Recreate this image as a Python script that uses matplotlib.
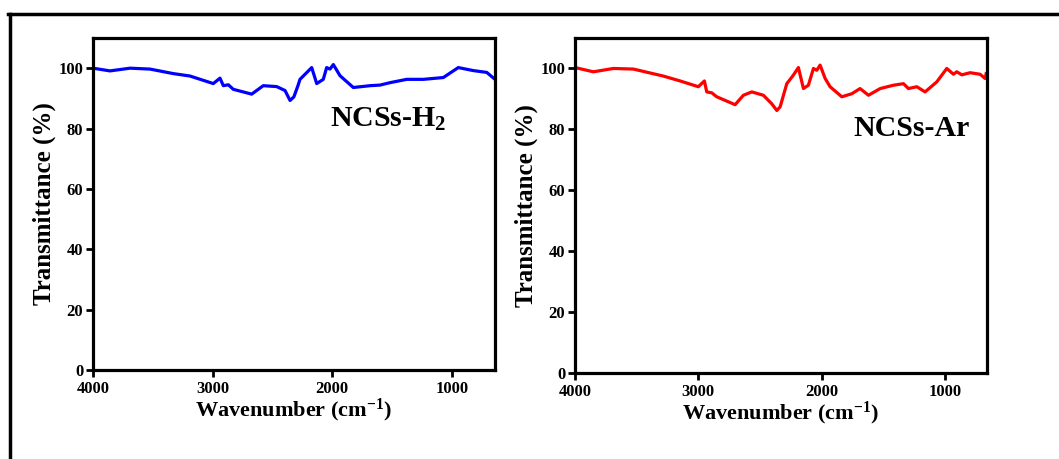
import matplotlib
matplotlib.use("Agg")
import matplotlib.pyplot as plt
from matplotlib.lines import Line2D

# NCSs-H2 spectrum (wavenumber, transmittance)
wn_h2 = [4000, 3858, 3690, 3523, 3328, 3189, 2994, 2938, 2910, 2868, 2827, 2673,
         2576, 2464, 2394, 2352, 2320, 2286, 2269, 2171, 2129, 2074, 2046, 2018,
         1990, 1934, 1823, 1683, 1600, 1516, 1376, 1237, 1070, 945, 819, 707, 638]
t_h2 = [100.0, 99.1, 100.0, 99.7, 98.2, 97.4, 94.9, 96.7, 94.2, 94.5, 93.0, 91.4,
        94.2, 93.9, 92.6, 89.3, 90.5, 94.2, 96.3, 100.2, 94.9, 96.3, 100.2, 99.7,
        101.2, 97.5, 93.6, 94.2, 94.4, 95.2, 96.3, 96.3, 96.9, 100.2, 99.2, 98.6, 96.3]

# NCSs-Ar spectrum
wn_ar = [4000, 3851, 3689, 3527, 3284, 3148, 3000, 2951, 2932, 2891, 2873, 2851,
         2702, 2635, 2567, 2473, 2405, 2364, 2337, 2283, 2230, 2189, 2148, 2108,
         2067, 2040, 2013, 1972, 1932, 1837, 1756, 1689, 1621, 1526, 1418, 1337,
         1297, 1229, 1162, 1067, 986, 932, 905, 864, 797, 716, 675, 667]
t_ar = [100.3, 98.9, 100.0, 99.8, 97.5, 95.9, 94.0, 95.9, 92.3, 92.0, 91.4, 90.7,
        88.1, 91.2, 92.3, 91.2, 88.4, 86.2, 87.4, 95.0, 97.8, 100.3, 93.4, 94.5,
        100.0, 99.4, 101.1, 96.7, 94.0, 90.7, 91.7, 93.4, 91.2, 93.4, 94.5, 95.0,
        93.4, 94.0, 92.3, 95.6, 100.0, 98.1, 98.9, 97.9, 98.6, 98.1, 96.7, 98.3]

yticks = [0, 20, 40, 60, 80, 100]
xticks = [4000, 3000, 2000, 1000]
labels = ["NCSs-H$_2$", "NCSs-Ar"]

plt.rcParams['font.family'] = ['Liberation Serif', 'DejaVu Serif']
plt.rcParams['mathtext.fontset'] = 'custom'
plt.rcParams['mathtext.rm'] = 'Liberation Serif:bold'
plt.rcParams['mathtext.it'] = 'Liberation Serif:bold'
plt.rcParams['mathtext.bf'] = 'Liberation Serif:bold'

fig = plt.figure(figsize=(10.59, 4.59), dpi=100)

# frame lines (top and left border)
fig.add_artist(Line2D([8/1059, 1.0], [1-14/459, 1-14/459], color='black', lw=2.5,
                      transform=fig.transFigure))
fig.add_artist(Line2D([10/1059, 10/1059], [0.0, 1-14/459], color='black', lw=2.5,
                      transform=fig.transFigure))

ax1 = fig.add_axes([93/1059, 89/459, 402/1059, 332/459])
ax2 = fig.add_axes([575/1059, 86/459, 412/1059, 335/459])

specs = [(ax1, wn_h2, t_h2, 'blue', labels[0], 638, (0.59, 0.755)),
         (ax2, wn_ar, t_ar, 'red', labels[1], 660, (0.675, 0.73))]

for ax, wn, t, col, lab, xmin, tpos in specs:
    ax.plot(wn, t, color=col, lw=2.3)
    ax.set_xlim(4000, xmin)
    ax.set_ylim(0, 110)
    ax.set_xticks(xticks)
    ax.set_yticks(yticks)
    for s in ax.spines.values():
        s.set_linewidth(2.3)
    ax.tick_params(direction='out', length=5, width=2, labelsize=12, pad=2)
    ax.tick_params(axis='x', pad=3)
    for lbl in ax.get_xticklabels() + ax.get_yticklabels():
        lbl.set_fontweight('bold')
    ax.set_xlabel("Wavenumber (cm$^{-1}$)", fontsize=16, fontweight='bold', labelpad=0)
    ax.set_ylabel("Transmittance (%)", fontsize=18, fontweight='bold', labelpad=2)
    ax.text(tpos[0], tpos[1], lab, transform=ax.transAxes, fontsize=21.5,
            fontweight='bold', ha='left', va='center')

fig.savefig("out.png", dpi=100)
